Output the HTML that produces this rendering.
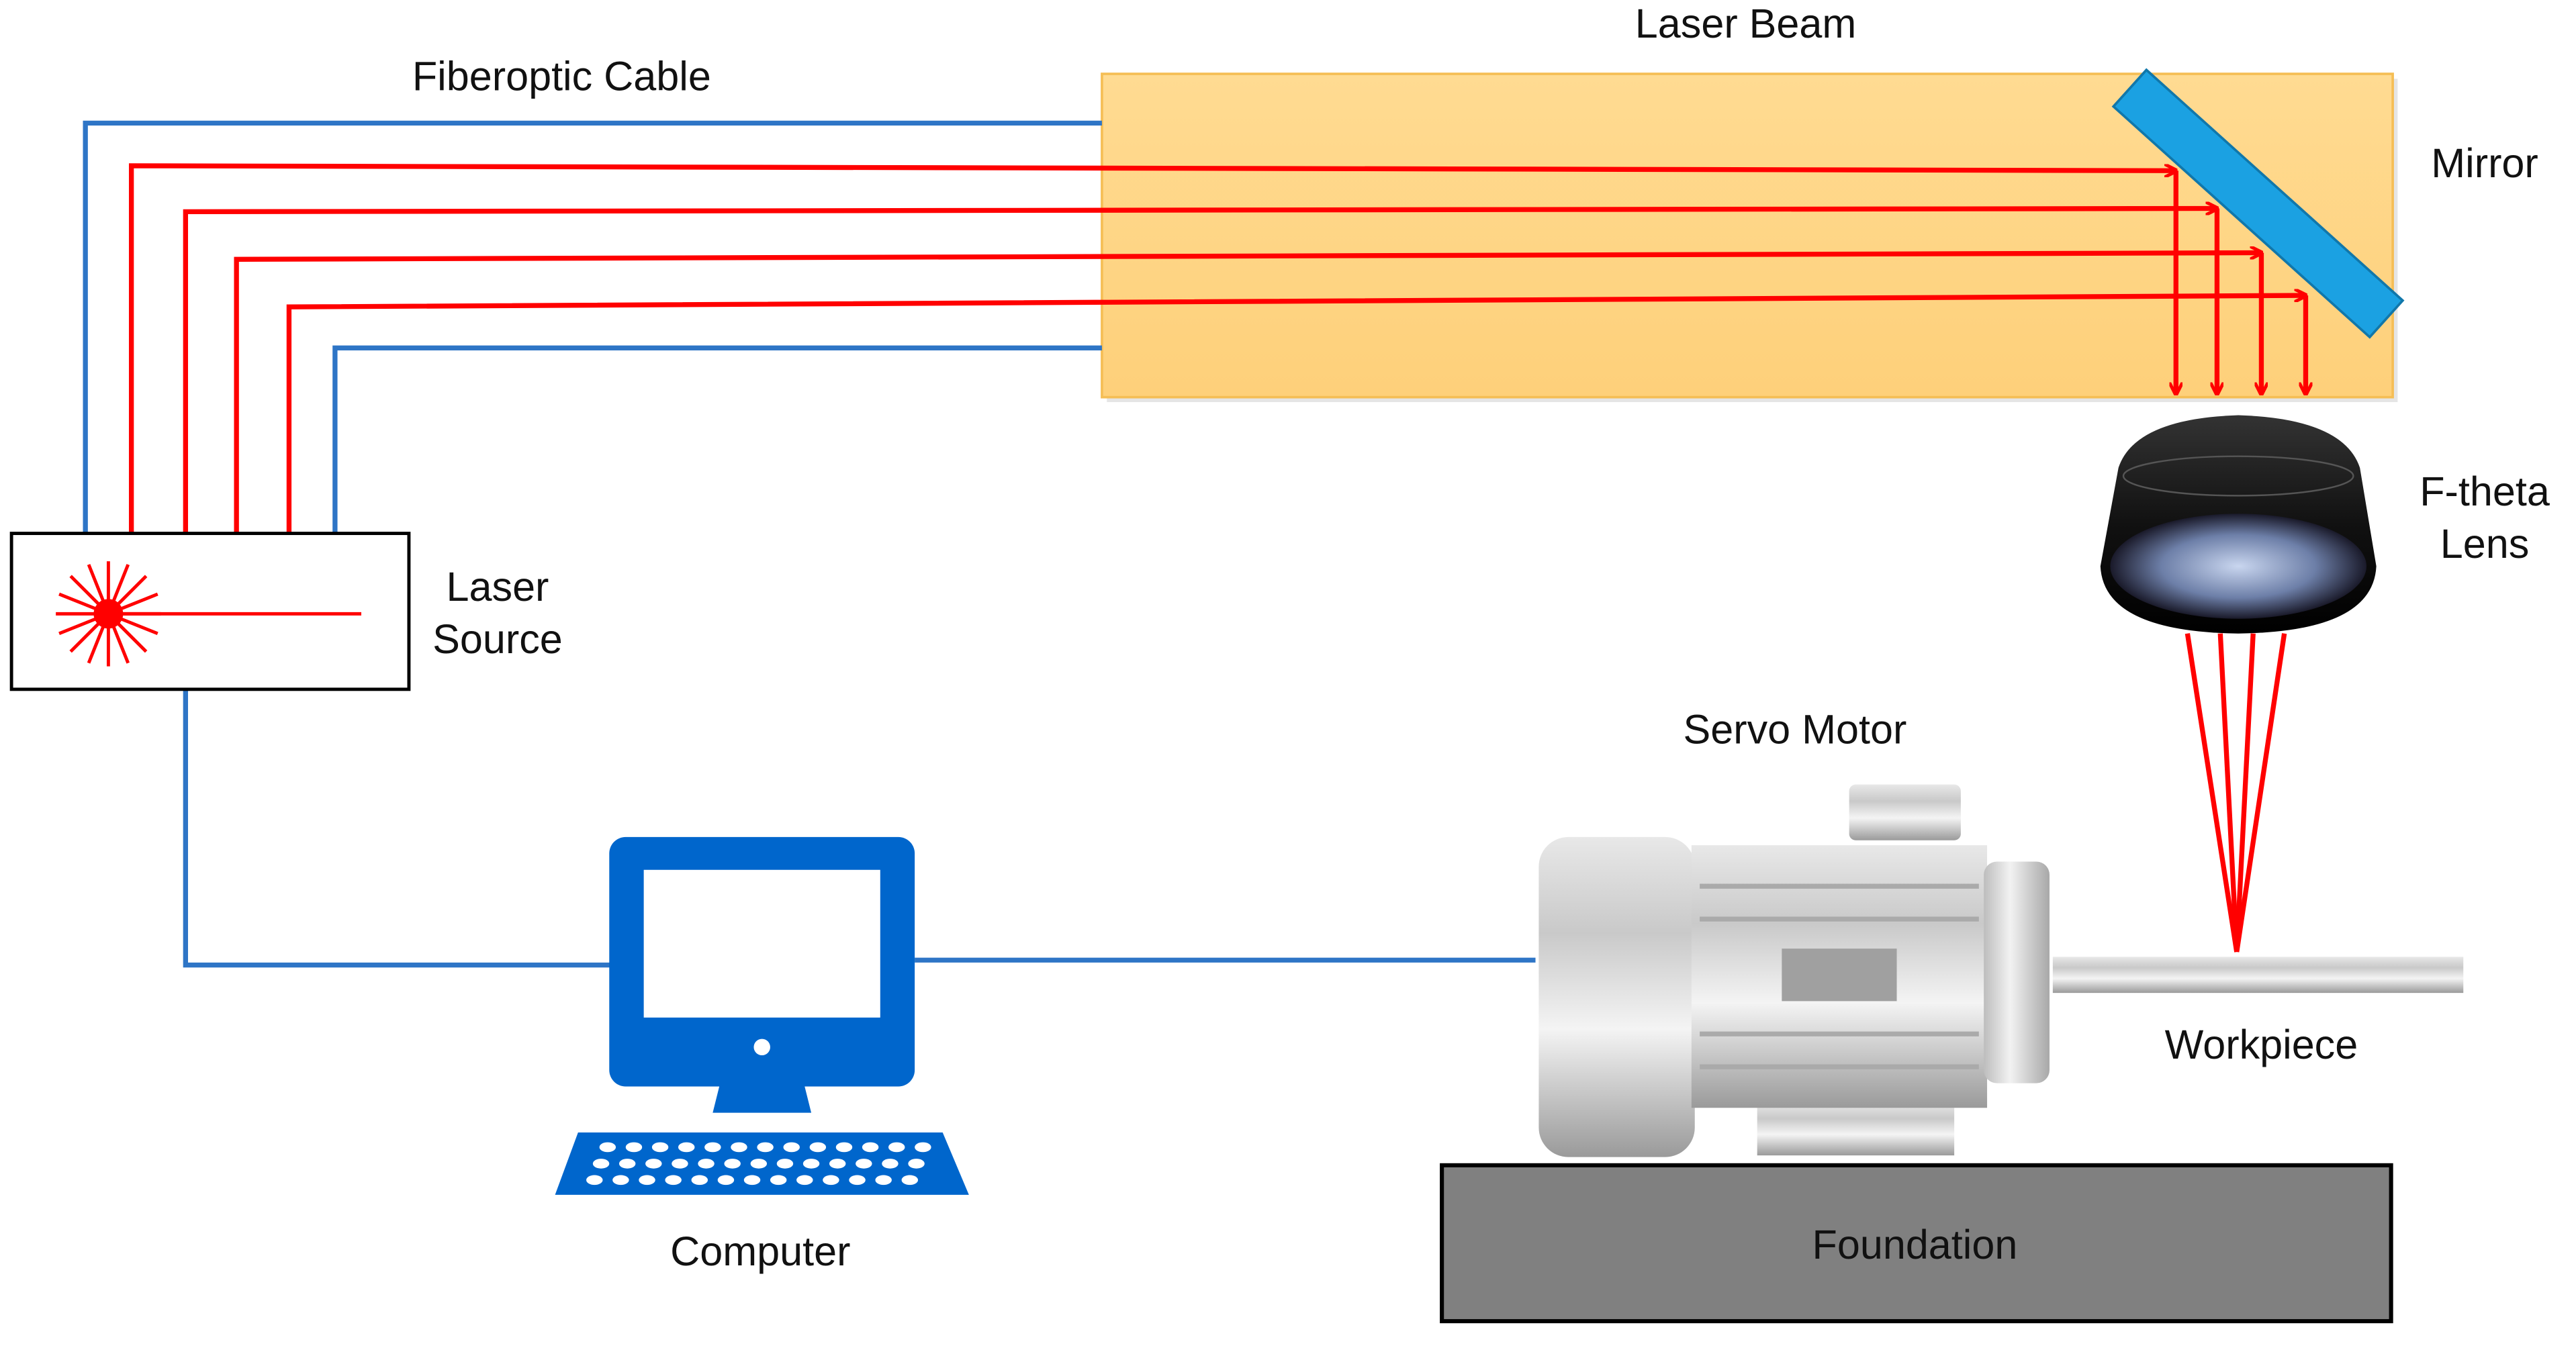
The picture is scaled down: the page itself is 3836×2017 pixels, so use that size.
<!DOCTYPE html>
<html><head><meta charset="utf-8">
<style>
html,body{margin:0;padding:0;background:#fff;width:3836px;height:2017px;overflow:hidden}
svg{display:block}
text{font-family:"Liberation Sans",sans-serif;font-size:25px;fill:#111}
</style></head>
<body>
<svg width="3836" height="2017" viewBox="0 0 1568.6 825" preserveAspectRatio="none" xmlns="http://www.w3.org/2000/svg">
<defs>
<linearGradient id="beam" x1="0" y1="0" x2="0" y2="1"><stop offset="0" stop-color="#FFDB92"/><stop offset="1" stop-color="#FED07A"/></linearGradient>
<linearGradient id="metal" x1="0" y1="0" x2="0" y2="1"><stop offset="0" stop-color="#e8e8e8"/><stop offset="0.3" stop-color="#c9c9c9"/><stop offset="0.6" stop-color="#f4f4f4"/><stop offset="1" stop-color="#9a9a9a"/></linearGradient>
<linearGradient id="metal2" x1="0" y1="0" x2="1" y2="0"><stop offset="0" stop-color="#bdbdbd"/><stop offset="0.4" stop-color="#f2f2f2"/><stop offset="1" stop-color="#a8a8a8"/></linearGradient>
<linearGradient id="lens" x1="0" y1="0" x2="0" y2="1"><stop offset="0" stop-color="#333"/><stop offset="0.5" stop-color="#111"/><stop offset="1" stop-color="#000"/></linearGradient>
<radialGradient id="glass" cx="0.5" cy="0.5" r="0.5"><stop offset="0" stop-color="#c9d6ef"/><stop offset="0.6" stop-color="#6d7fa8"/><stop offset="1" stop-color="#1a1a2a"/></radialGradient>
<marker id="ar" markerWidth="8" markerHeight="8" refX="7" refY="4" orient="auto" markerUnits="userSpaceOnUse"><path d="M0,0 L8,4 L0,8" fill="none" stroke="#f00" stroke-width="2"/></marker>
</defs>

<rect x="674" y="48" width="786" height="197" fill="#ccc" opacity="0.5"/>
<rect x="671" y="45" width="786" height="197" fill="url(#beam)" stroke="#F5BE55" stroke-width="1.5"/>
<text x="1063" y="23" text-anchor="middle">Laser Beam</text>
<text x="342" y="55" text-anchor="middle">Fiberoptic Cable</text>

<g transform="translate(1375,124) rotate(42)">
<rect x="-105" y="-15" width="210" height="30" fill="#1BA1E2" stroke="#1177AA" stroke-width="1.5"/>
</g>

<g fill="none" stroke="#2E75C6" stroke-width="3">
<polyline points="52,325 52,75 671,75"/>
<polyline points="204,325 204,212 671,212"/>
<polyline points="113,420 113,588 372,588"/>
<line x1="557" y1="585" x2="935" y2="585"/>
</g>

<g fill="none" stroke="#f00" stroke-width="3">
<polyline points="80,325 80,101 1325,104" marker-end="url(#ar)"/>
<polyline points="113,325 113,129 1350,127" marker-end="url(#ar)"/>
<polyline points="144,325 144,158 1377,154" marker-end="url(#ar)"/>
<polyline points="176,325 176,187 1404,180" marker-end="url(#ar)"/>
<line x1="1325" y1="104" x2="1325" y2="240" marker-end="url(#ar)"/>
<line x1="1350" y1="127" x2="1350" y2="240" marker-end="url(#ar)"/>
<line x1="1377" y1="154" x2="1377" y2="240" marker-end="url(#ar)"/>
<line x1="1404" y1="180" x2="1404" y2="240" marker-end="url(#ar)"/>
</g>
<text x="1513" y="108" text-anchor="middle">Mirror</text>

<rect x="7" y="325" width="242" height="95" fill="#fff" stroke="#000" stroke-width="2"/>
<line x1="66" y1="374" x2="220" y2="374" stroke="#f00" stroke-width="2"/>
<g stroke="#f00" stroke-width="2">
<line x1="34" y1="374" x2="98" y2="374"/><line x1="66" y1="342" x2="66" y2="406"/>
<line x1="43" y1="351" x2="89" y2="397"/><line x1="89" y1="351" x2="43" y2="397"/>
<line x1="36" y1="362" x2="96" y2="386"/><line x1="36" y1="386" x2="96" y2="362"/>
<line x1="54" y1="344" x2="78" y2="404"/><line x1="78" y1="344" x2="54" y2="404"/>
</g>
<circle cx="66" cy="374" r="9" fill="#f00"/>
<text x="303" y="366" text-anchor="middle">Laser</text>
<text x="303" y="398" text-anchor="middle">Source</text>

<path d="M1290,285 Q1300,255 1363,253 Q1427,255 1437,285 L1447,345 Q1445,385 1363,386 Q1281,385 1279,345 Z" fill="url(#lens)"/>
<ellipse cx="1363" cy="345" rx="78" ry="32" fill="url(#glass)"/>
<ellipse cx="1363" cy="290" rx="70" ry="12" fill="none" stroke="#555" stroke-width="1"/>
<text x="1513" y="308" text-anchor="middle">F-theta</text>
<text x="1513" y="340" text-anchor="middle">Lens</text>
<g stroke="#f00" stroke-width="3" fill="none">
<line x1="1332" y1="386" x2="1362" y2="580"/>
<line x1="1352" y1="386" x2="1362" y2="580"/>
<line x1="1372" y1="386" x2="1362" y2="580"/>
<line x1="1391" y1="386" x2="1362" y2="580"/>
</g>

<rect x="371" y="510" width="186" height="152" rx="10" fill="#0066CC"/>
<rect x="392" y="530" width="144" height="90" fill="#fff"/>
<circle cx="464" cy="638" r="5" fill="#fff"/>
<path d="M438,662 L490,662 L494,678 L434,678 Z" fill="#0066CC"/>
<path d="M352,690 L574,690 L590,728 L338,728 Z" fill="#0066CC"/>
<g fill="#fff">
<g id="row"><ellipse cx="370" cy="699" rx="5" ry="3"/><ellipse cx="386" cy="699" rx="5" ry="3"/><ellipse cx="402" cy="699" rx="5" ry="3"/><ellipse cx="418" cy="699" rx="5" ry="3"/><ellipse cx="434" cy="699" rx="5" ry="3"/><ellipse cx="450" cy="699" rx="5" ry="3"/><ellipse cx="466" cy="699" rx="5" ry="3"/><ellipse cx="482" cy="699" rx="5" ry="3"/><ellipse cx="498" cy="699" rx="5" ry="3"/><ellipse cx="514" cy="699" rx="5" ry="3"/><ellipse cx="530" cy="699" rx="5" ry="3"/><ellipse cx="546" cy="699" rx="5" ry="3"/><ellipse cx="562" cy="699" rx="5" ry="3"/></g>
<use href="#row" x="-4" y="10"/><use href="#row" x="-8" y="20"/>
</g>
<text x="463" y="771" text-anchor="middle">Computer</text>

<text x="1093" y="453" text-anchor="middle">Servo Motor</text>
<rect x="1126" y="478" width="68" height="34" rx="4" fill="url(#metal)"/>
<rect x="1250" y="583" width="250" height="22" fill="url(#metal)"/>
<rect x="1070" y="672" width="120" height="32" fill="url(#metal)"/>
<rect x="937" y="510" width="95" height="195" rx="18" fill="url(#metal)"/>
<rect x="1030" y="515" width="180" height="160" fill="url(#metal)"/>
<g stroke="#aaa" stroke-width="3">
<line x1="1035" y1="540" x2="1205" y2="540"/><line x1="1035" y1="560" x2="1205" y2="560"/>
<line x1="1035" y1="630" x2="1205" y2="630"/><line x1="1035" y1="650" x2="1205" y2="650"/>
</g>
<rect x="1085" y="578" width="70" height="32" fill="#a0a0a0"/>
<rect x="1208" y="525" width="40" height="135" rx="8" fill="url(#metal2)"/>
<text x="1377" y="645" text-anchor="middle">Workpiece</text>

<rect x="878" y="710" width="578" height="95" fill="#808080" stroke="#000" stroke-width="2.5"/>
<text x="1166" y="767" text-anchor="middle">Foundation</text>
</svg>
</body></html>
